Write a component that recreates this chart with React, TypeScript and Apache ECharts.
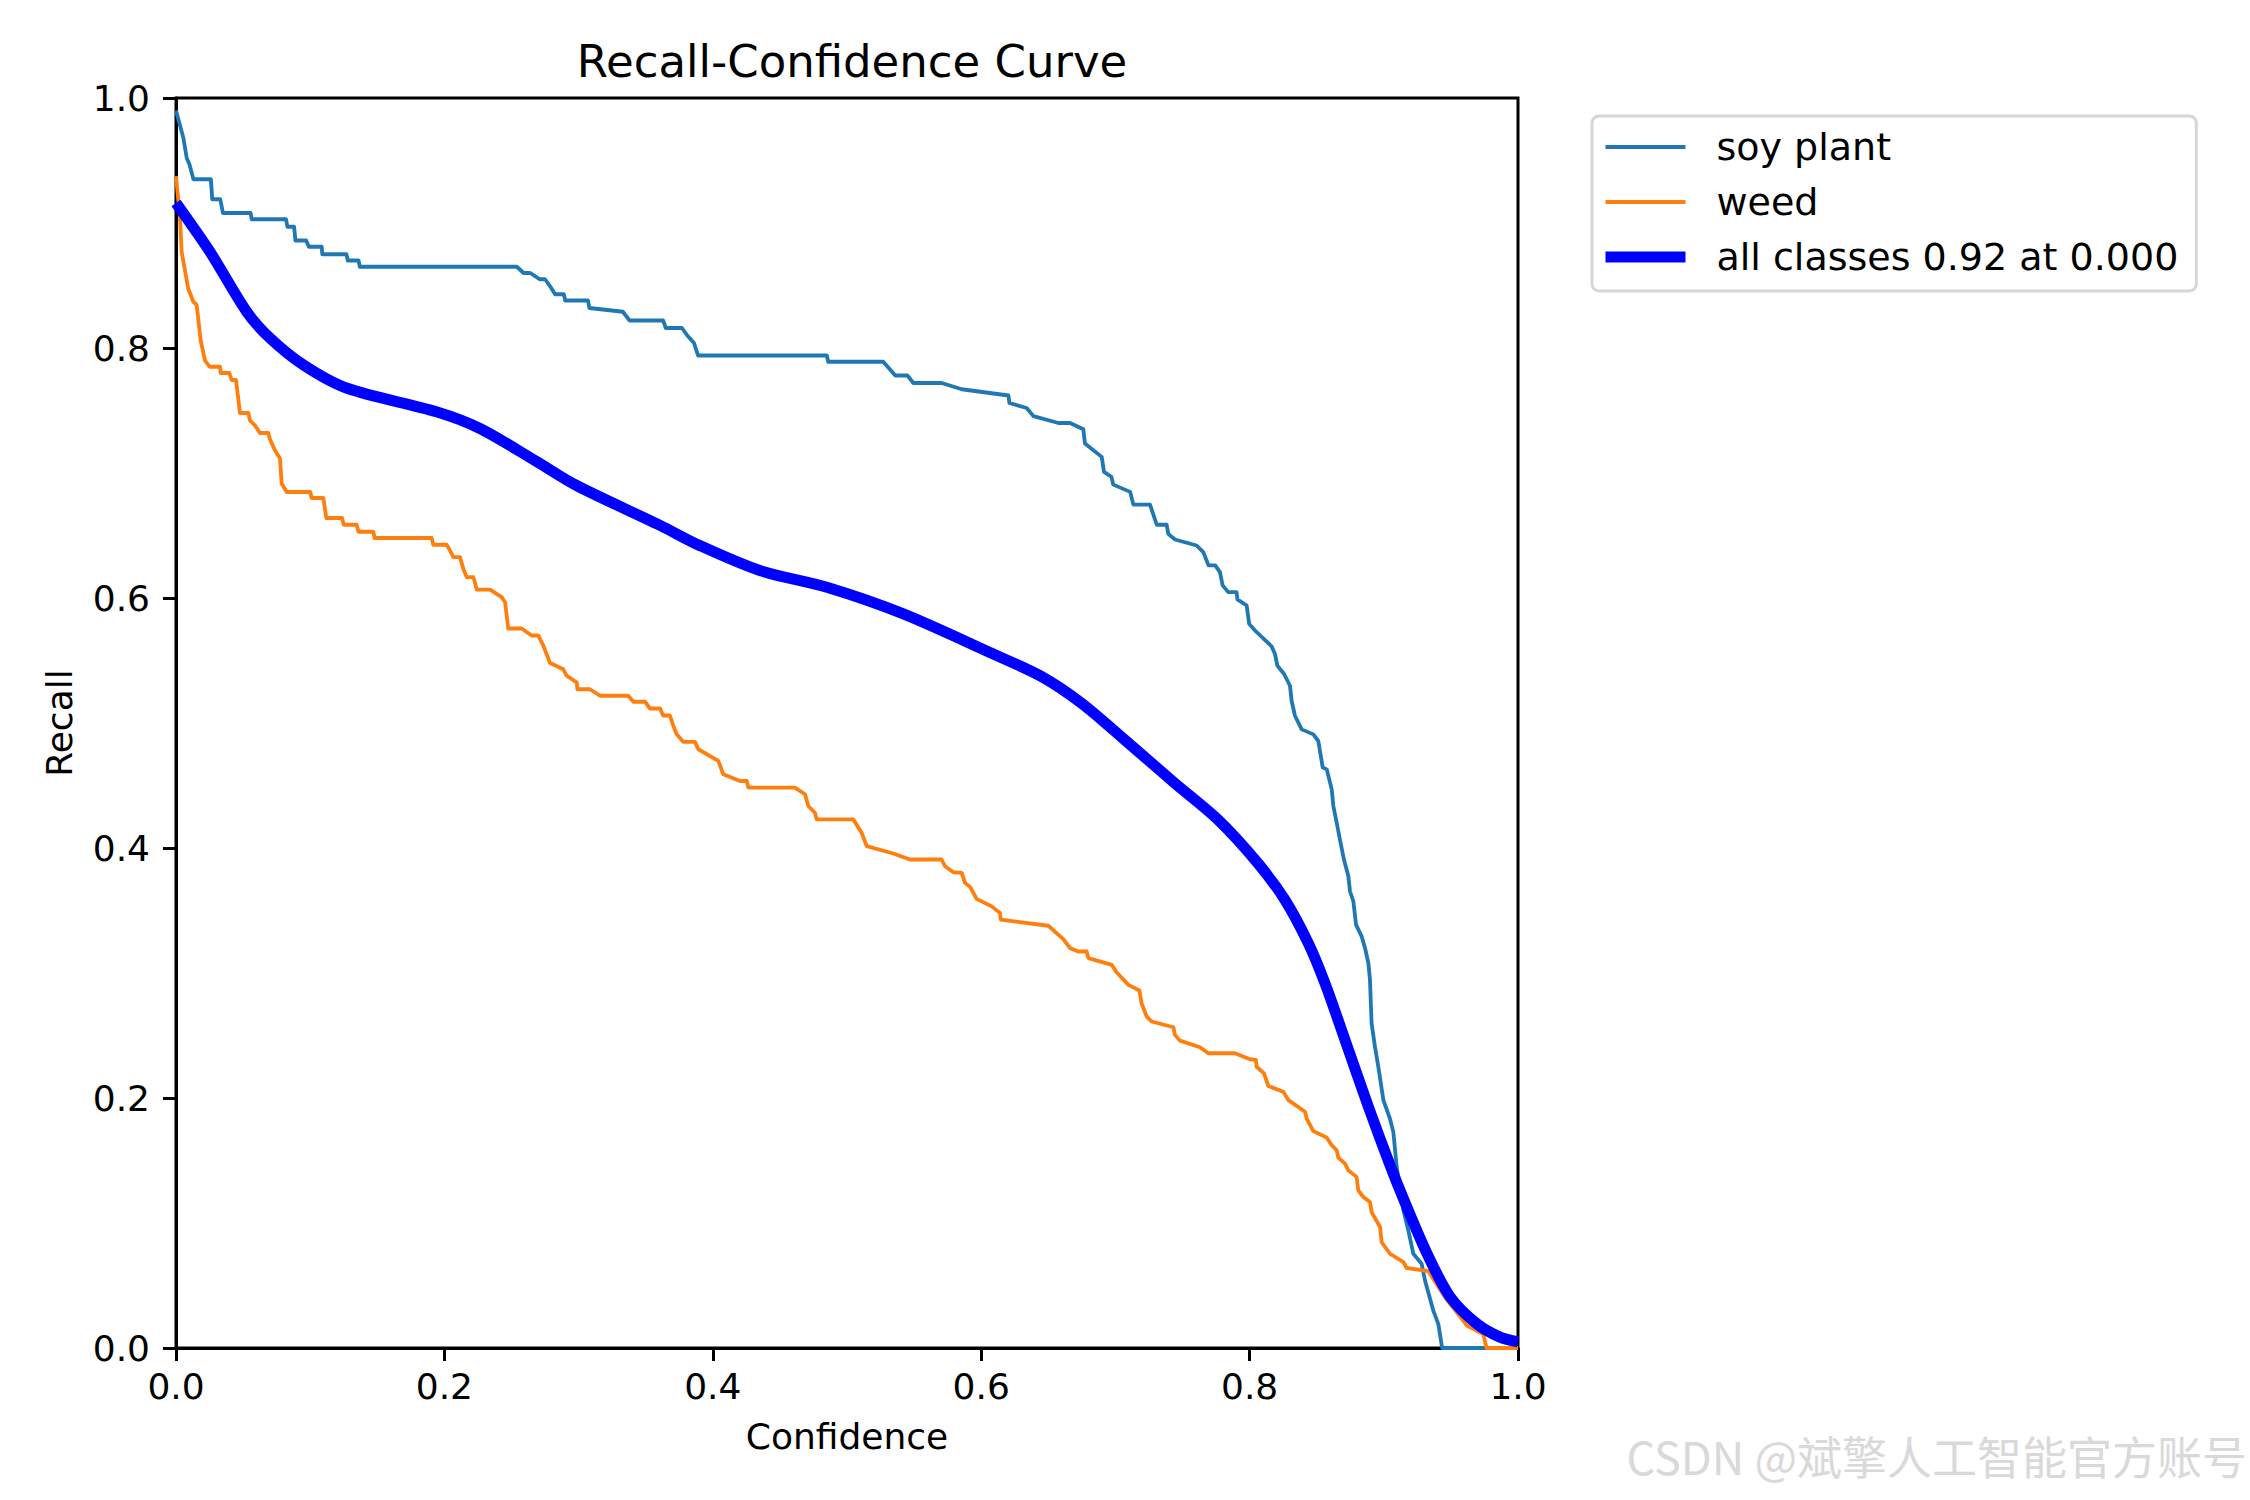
import { useEffect, useRef } from 'react'
import * as echarts from 'echarts'

// Recall-Confidence curve values
const soyConf = [
  0.0, 0.0055, 0.008, 0.01, 0.013, 0.026, 0.027, 0.033, 0.035, 0.0556, 0.0564, 0.082, 0.083, 0.088,
  0.089, 0.097, 0.099, 0.1086, 0.109, 0.127, 0.128, 0.136, 0.137, 0.254, 0.259, 0.264, 0.271, 0.275,
  0.279, 0.2825, 0.289, 0.29, 0.307, 0.308, 0.333, 0.338, 0.363, 0.365, 0.377, 0.381, 0.386, 0.389,
  0.485, 0.486, 0.527, 0.536, 0.545, 0.5495, 0.5706, 0.5855, 0.6203, 0.621, 0.6339, 0.6389, 0.6575,
  0.6662, 0.6761, 0.6773, 0.6898, 0.6915, 0.697, 0.6984, 0.711, 0.7134, 0.7258, 0.7308, 0.7382,
  0.7394, 0.7444, 0.7605, 0.7655, 0.7694, 0.7744, 0.7779, 0.7799, 0.7841, 0.7903, 0.7909, 0.7978,
  0.7997, 0.804, 0.8164, 0.8189, 0.8207, 0.8257, 0.8301, 0.8313, 0.8338, 0.8388, 0.8475, 0.8512,
  0.8545, 0.8575, 0.8612, 0.8624, 0.8649, 0.8673, 0.8703, 0.8736, 0.8748, 0.8773, 0.8793, 0.8835,
  0.886, 0.8885, 0.8897, 0.8909, 0.8934, 0.8959, 0.8997, 0.9046, 0.9071, 0.9096, 0.9146, 0.9183,
  0.922, 0.9282, 0.9307, 0.9369, 0.9406, 0.9435, 1.0,
]
const soyRecall = [
  0.99, 0.968, 0.952, 0.947, 0.935, 0.935, 0.919, 0.919, 0.908, 0.908, 0.903, 0.903, 0.897, 0.897,
  0.886, 0.886, 0.881, 0.881, 0.875, 0.875, 0.87, 0.87, 0.865, 0.865, 0.86, 0.86, 0.855, 0.855,
  0.849, 0.843, 0.843, 0.838, 0.838, 0.832, 0.829, 0.822, 0.822, 0.816, 0.816, 0.81, 0.804, 0.794,
  0.794, 0.789, 0.789, 0.778, 0.778, 0.772, 0.772, 0.767, 0.762, 0.756, 0.752, 0.7455, 0.74,
  0.74, 0.735, 0.7236, 0.7129, 0.7009, 0.697, 0.6907, 0.6849, 0.6747, 0.6747, 0.6586, 0.6586,
  0.6513, 0.6468, 0.642, 0.6367, 0.6261, 0.6261, 0.6207, 0.6101, 0.6047, 0.6047, 0.5989, 0.594,
  0.5793, 0.574, 0.5613, 0.5552, 0.5459, 0.5392, 0.5298, 0.5178, 0.5058, 0.4949, 0.4909, 0.4856,
  0.4643, 0.4629, 0.4469, 0.4336, 0.4202, 0.4068, 0.3908, 0.3774, 0.3654, 0.3574, 0.3387, 0.3293,
  0.32, 0.308, 0.2946, 0.2598, 0.2411, 0.2251, 0.1983, 0.1834, 0.1729, 0.1449, 0.1101, 0.094,
  0.0754, 0.0674, 0.054, 0.0299, 0.0193, 0.0, 0.0,
]

const weedConf = [
  0.0, 0.003, 0.0042, 0.009, 0.0129, 0.0154, 0.0184, 0.0216, 0.025, 0.0328, 0.0333, 0.0397, 0.0415,
  0.0447, 0.0477, 0.054, 0.0551, 0.0589, 0.0626, 0.0688, 0.07, 0.0738, 0.0775, 0.0787, 0.0825, 0.1,
  0.1011, 0.1098, 0.112, 0.1237, 0.125, 0.1346, 0.136, 0.147, 0.148, 0.1905, 0.1917, 0.2017, 0.2042,
  0.2067, 0.2116, 0.2141, 0.2166, 0.2216, 0.2241, 0.234, 0.2427, 0.2452, 0.2476, 0.2576, 0.265, 0.27,
  0.2737, 0.2787, 0.2886, 0.2911, 0.2986, 0.2991, 0.3085, 0.316, 0.337, 0.3408, 0.3495, 0.3532,
  0.3607, 0.363, 0.368, 0.3706, 0.3731, 0.378, 0.3867, 0.3892, 0.4041, 0.4078, 0.4203, 0.4253,
  0.4265, 0.4612, 0.4687, 0.4712, 0.4761, 0.4774, 0.5047, 0.5109, 0.5147, 0.5345, 0.5469, 0.5705,
  0.573, 0.5793, 0.5855, 0.5879, 0.5917, 0.5966, 0.6078, 0.614, 0.6146, 0.65, 0.6612, 0.6662, 0.6724,
  0.6786, 0.6799, 0.6973, 0.701, 0.7097, 0.7179, 0.7195, 0.7233, 0.727, 0.7432, 0.7444, 0.7481,
  0.763, 0.7692, 0.7891, 0.8002, 0.8047, 0.8052, 0.8107, 0.814, 0.8251, 0.8289, 0.8413, 0.8425,
  0.8475, 0.8574, 0.8612, 0.8649, 0.8661, 0.8711, 0.8736, 0.8797, 0.881, 0.8847, 0.8897, 0.8909,
  0.8972, 0.8984, 0.9046, 0.9146, 0.917, 0.9332, 0.946, 0.9592, 0.9618, 0.9741, 0.9766, 1.0,
]
const weedRecall = [
  0.9375, 0.904, 0.877, 0.848, 0.837, 0.8345, 0.806, 0.79, 0.785, 0.785, 0.78, 0.78, 0.7744, 0.7744,
  0.748, 0.748, 0.742, 0.738, 0.732, 0.732, 0.727, 0.718, 0.7116, 0.6916, 0.6848, 0.6848, 0.68, 0.68,
  0.664, 0.664, 0.6586, 0.6586, 0.653, 0.653, 0.648, 0.648, 0.6426, 0.6426, 0.6379, 0.6327, 0.6327,
  0.6234, 0.6167, 0.6167, 0.6067, 0.6067, 0.6007, 0.5966, 0.5756, 0.5756, 0.57, 0.57, 0.5619, 0.548,
  0.543, 0.5378, 0.5325, 0.527, 0.527, 0.5218, 0.5218, 0.517, 0.517, 0.5116, 0.5116, 0.506, 0.506,
  0.4977, 0.491, 0.4849, 0.4849, 0.479, 0.4697, 0.459, 0.4536, 0.4536, 0.4483, 0.4483, 0.443, 0.4336,
  0.4282, 0.4229, 0.4229, 0.4122, 0.4015, 0.3956, 0.3908, 0.3908, 0.3854, 0.3806, 0.3801, 0.3721,
  0.3689, 0.3593, 0.3533, 0.348, 0.3427, 0.3378, 0.3271, 0.3199, 0.3172, 0.3172, 0.3119, 0.3065,
  0.3004, 0.2905, 0.286, 0.2758, 0.2651, 0.2612, 0.2566, 0.2505, 0.2459, 0.2406, 0.2358, 0.2358,
  0.231, 0.2305, 0.225, 0.2197, 0.2096, 0.205, 0.1983, 0.189, 0.1836, 0.1735, 0.1684, 0.1622, 0.1582,
  0.1523, 0.1475, 0.1421, 0.1369, 0.1261, 0.1208, 0.1168, 0.1087, 0.0968, 0.0846, 0.0754, 0.0687,
  0.064, 0.0615, 0.04, 0.0219, 0.018, 0.0112, 0.0, 0.0,
]

const allConf = [
  0.0, 0.0253, 0.0527, 0.07, 0.0949, 0.127, 0.194, 0.2265, 0.269, 0.2985, 0.3607, 0.39, 0.435,
  0.485, 0.542, 0.6078, 0.6451, 0.6749, 0.7071, 0.7444, 0.7767, 0.8063, 0.8264, 0.8438, 0.8562,
  0.8711, 0.8885, 0.9046, 0.9146, 0.9319, 0.9493, 0.9692, 0.9866, 1.0,
]
const allRecall = [
  0.916, 0.877, 0.829, 0.808, 0.7865, 0.768, 0.749, 0.7356, 0.709, 0.69, 0.6581, 0.6421, 0.622,
  0.6086, 0.5873, 0.5558, 0.5371, 0.5157, 0.4864, 0.4517, 0.4224, 0.3877, 0.3584, 0.3237, 0.2917,
  0.2464, 0.193, 0.1464, 0.1195, 0.0763, 0.0411, 0.0195, 0.0087, 0.005,
]

const classNames = ['soy plant', 'weed']
const classColors = ['#1f77b4', '#ff7f0e']
const allLabel = `all classes ${allRecall[0].toFixed(2)} at ${allConf[0].toFixed(3)}`

const FONT = 'DejaVu Sans'

const zip = (xs: number[], ys: number[]) => xs.map((x, i) => [x, ys[i]])

export default function App() {
  const chartRef = useRef<HTMLDivElement>(null)

  useEffect(() => {
    if (!chartRef.current) return
    const chart = echarts.init(chartRef.current, undefined, { renderer: 'svg' })

    const axisCommon = {
      type: 'value' as const,
      min: 0,
      max: 1,
      interval: 0.2,
      splitLine: { show: false },
      axisLine: { show: true, lineStyle: { color: '#000', width: 3 } },
      axisTick: { show: true, inside: false, length: 13, lineStyle: { color: '#000', width: 3 } },
      nameLocation: 'middle' as const,
      nameTextStyle: { fontFamily: FONT, fontSize: 36, color: '#000' },
    }

    chart.setOption({
      animation: false,
      backgroundColor: '#fff',
      title: {
        text: 'Recall-Confidence Curve',
        left: 847,
        top: 34,
        textAlign: 'center',
        textStyle: { fontFamily: FONT, fontSize: 45, fontWeight: 'normal', color: '#000' },
      },
      grid: {
        left: 176,
        top: 98,
        width: 1342,
        height: 1250,
        show: true,
        borderColor: '#000',
        borderWidth: 3,
        backgroundColor: 'transparent',
      },
      legend: {
        orient: 'vertical',
        left: 1592,
        top: 116,
        padding: [11, 18, 14, 8],
        itemGap: 15,
        itemWidth: 80,
        itemHeight: 14,
        selectedMode: false,
        backgroundColor: '#fff',
        borderColor: '#d6d6d6',
        borderWidth: 3,
        borderRadius: 7,
        itemStyle: { opacity: 0 },
        textStyle: {
          fontFamily: FONT,
          fontSize: 38,
          lineHeight: 40,
          color: '#000',
          padding: [0, 0, 0, 26],
        },
        data: [
          { name: classNames[0], lineStyle: { width: 3.8, color: classColors[0] } },
          { name: classNames[1], lineStyle: { width: 3.8, color: classColors[1] } },
          { name: allLabel, lineStyle: { width: 11, color: '#0000ff' } },
        ],
      },
      xAxis: {
        ...axisCommon,
        name: 'Confidence',
        nameGap: 70,
        axisLabel: {
          margin: 20,
          fontFamily: FONT,
          fontSize: 36,
          color: '#000',
          formatter: (v: number) => v.toFixed(1),
        },
      },
      yAxis: {
        ...axisCommon,
        name: 'Recall',
        nameGap: 99,
        axisLabel: {
          margin: 26,
          fontFamily: FONT,
          fontSize: 36,
          color: '#000',
          formatter: (v: number) => v.toFixed(1),
        },
      },
      graphic: [
        {
          type: 'text',
          right: 3,
          top: 1433,
          style: {
            text: 'CSDN @斌擎人工智能官方账号',
            fontFamily: 'Noto Sans CJK SC',
            fontSize: 45,
            fill: '#d9d9d9',
          },
        },
      ],
      series: [
        {
          type: 'line',
          name: classNames[0],
          data: zip(soyConf, soyRecall),
          showSymbol: false,
          symbol: 'none',
          lineStyle: { width: 3.8, color: classColors[0], join: 'round' },
          itemStyle: { color: classColors[0] },
        },
        {
          type: 'line',
          name: classNames[1],
          data: zip(weedConf, weedRecall),
          showSymbol: false,
          symbol: 'none',
          lineStyle: { width: 3.8, color: classColors[1], join: 'round' },
          itemStyle: { color: classColors[1] },
        },
        {
          type: 'line',
          name: allLabel,
          data: zip(allConf, allRecall),
          showSymbol: false,
          symbol: 'none',
          smooth: 0.3,
          lineStyle: { width: 11, color: '#0000ff', join: 'round' },
          itemStyle: { color: '#0000ff' },
        },
      ],
    })

    return () => {
      chart.dispose()
    }
  }, [])

  return (
    <div
      ref={chartRef}
      style={{ position: 'absolute', left: 0, top: 0, width: '2250px', height: '1500px' }}
    />
  )
}
